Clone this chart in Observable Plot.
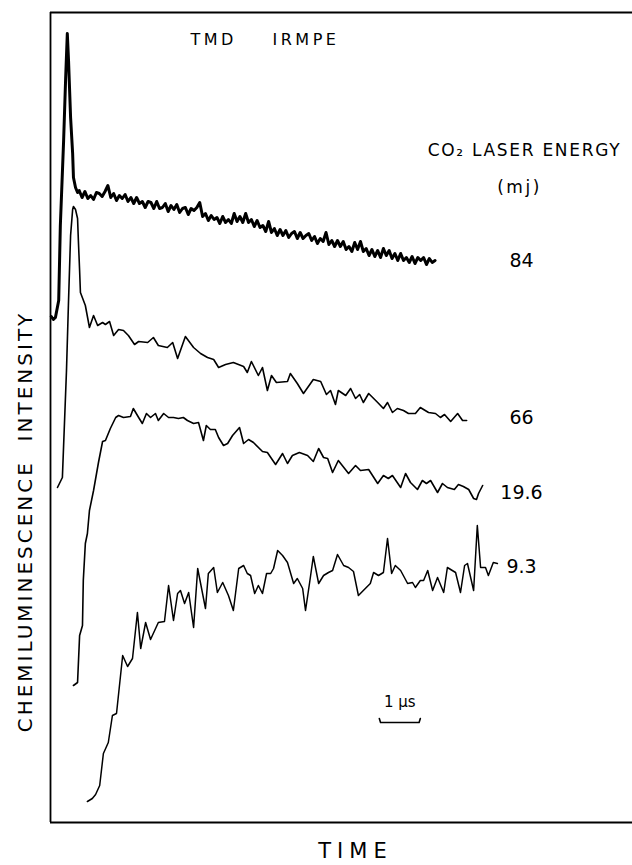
<!DOCTYPE html>
<html><head><meta charset="utf-8">
<script src="https://cdn.jsdelivr.net/npm/d3@7"></script>
<script src="https://cdn.jsdelivr.net/npm/@observablehq/plot@0.6"></script>
<style>html,body{margin:0;padding:0;background:#fff;overflow:hidden;} svg{display:block;}</style>
</head><body>
<div id="chart"></div>
<script>
// Time in microseconds, intensity in arbitrary units (traces offset for display)
const t84 = [0.02,0.07,0.12,0.20,0.24,0.32,0.37,0.41,0.44,0.49,0.54,0.56,0.61,0.66,
0.70,0.77,0.84,0.91,0.98,1.05,1.12,1.19,1.26,1.33,
1.40,1.47,1.54,1.61,1.68,1.75,1.82,1.89,1.96,2.03,
2.10,2.17,2.24,2.31,2.38,2.45,2.52,2.59,2.66,2.73,
2.80,2.87,2.94,3.01,3.08,3.15,3.22,3.29,3.36,3.43,
3.50,3.57,3.64,3.71,3.78,3.85,3.92,3.99,4.06,4.13,
4.20,4.27,4.34,4.41,4.48,4.55,4.62,4.69,4.76,4.83,
4.90,4.97,5.04,5.11,5.18,5.25,5.32,5.39,5.46,5.53,
5.60,5.67,5.74,5.81,5.88,5.95,6.02,6.09,6.16,6.23,
6.30,6.37,6.44,6.51,6.58,6.65,6.72,6.79,6.86,6.93,
7.00,7.07,7.14,7.21,7.28,7.35,7.42,7.49,7.56,7.63,
7.70,7.77,7.84,7.91,7.98,8.05,8.12,8.19,8.26,8.33,
8.40,8.47,8.54,8.61,8.68,8.75,8.82,8.89,8.96,9.03,
9.10,9.17,9.24,9.31,9.38];
const v84 = [505,502,504,521,596,681,744,788,761,704,668,644,634,629,
631,624,630,623,626,622,629,628,625,630,
636,624,628,621,626,623,627,620,624,618,
624,618,620,614,620,619,613,620,613,614,
618,610,616,612,617,609,613,614,607,613,
611,614,619,605,608,601,606,602,604,598,
605,599,602,598,608,600,605,599,608,599,
602,595,601,594,596,590,600,589,593,586,
592,586,591,584,588,590,583,589,583,586,
588,581,585,578,583,580,589,577,581,575,
581,575,580,572,575,570,579,572,580,570,
573,566,572,565,571,564,573,566,571,563,
568,561,568,561,564,559,565,558,564,561,
564,557,563,559,561];

const t66 = [0.17,0.29,0.39,0.44,0.49,0.54,0.56,0.61,0.66,0.68,
0.71,0.73,0.85,0.95,1.05,1.15,1.27,1.34,1.44,1.54,
1.66,1.78,1.90,2.05,2.15,2.37,2.51,2.63,2.85,2.98,
3.10,3.29,3.49,3.66,3.83,3.98,4.10,4.27,4.46,4.71,
4.80,4.90,5.07,5.17,5.29,5.39,5.51,5.78,5.85,6.02,
6.17,6.41,6.59,6.73,6.83,6.95,7.02,7.20,7.32,7.44,
7.54,7.63,7.76,7.98,8.12,8.22,8.34,8.46,8.61,8.73,
8.90,9.02,9.22,9.39,9.51,9.61,9.76,9.93,10.05,10.15];
const v66 = [334,344,451,521,586,612,615,612,603,581,
551,529,516,494,506,496,499,497,500,486,
492,491,486,477,480,479,484,476,474,479,
463,485,474,468,464,462,454,457,459,455,
449,460,446,454,431,446,439,440,448,438,
428,442,440,427,431,417,431,426,433,423,
427,419,428,419,413,419,409,413,411,408,
408,414,409,408,404,407,400,408,401,401];

const t19 = [0.56,0.66,0.71,0.78,0.80,0.85,0.90,0.95,1.05,1.17,
1.27,1.34,1.46,1.59,1.66,1.78,1.95,2.02,2.15,2.24,
2.34,2.44,2.56,2.63,2.76,2.88,3.00,3.12,3.24,3.34,
3.49,3.61,3.73,3.80,3.90,4.02,4.10,4.22,4.32,4.44,
4.61,4.71,4.83,4.95,5.17,5.29,5.49,5.66,5.78,5.90,
6.07,6.27,6.41,6.54,6.66,6.76,6.88,7.02,7.27,7.44,
7.56,7.76,7.98,8.12,8.24,8.34,8.54,8.66,8.78,8.95,
9.07,9.17,9.27,9.44,9.56,9.68,9.85,9.95,10.07,10.20,
10.32,10.39,10.44,10.54];
const v19 = [136,139,186,196,241,278,288,311,331,359,
380,381,393,404,406,404,405,413,404,398,
408,404,408,401,408,404,404,403,404,401,
398,399,381,396,392,392,384,376,378,386,
394,378,382,379,370,369,357,368,358,366,
369,366,360,373,364,363,349,361,348,356,
351,352,338,346,343,346,334,348,339,332,
341,338,341,329,338,334,332,337,335,332,
323,322,328,336];

const t93 = [0.90,1.02,1.10,1.20,1.29,1.41,1.51,1.61,1.76,1.88,
2.00,2.12,2.20,2.32,2.44,2.63,2.78,2.88,3.00,3.10,
3.17,3.27,3.37,3.49,3.59,3.78,3.85,3.98,4.07,4.20,
4.34,4.46,4.59,4.71,4.80,4.88,4.98,5.07,5.17,5.27,
5.37,5.44,5.54,5.66,5.78,5.93,6.02,6.15,6.22,6.32,
6.41,6.54,6.66,6.78,6.88,7.00,7.15,7.27,7.39,7.51,
7.63,7.80,7.88,8.00,8.12,8.22,8.32,8.41,8.54,8.71,
8.83,8.90,9.02,9.10,9.20,9.32,9.44,9.59,9.68,9.80,
9.88,10.00,10.10,10.17,10.32,10.41,10.49,10.61,10.68,10.80,
10.90];
const v93 = [20,23,27,36,68,79,106,108,166,155,
163,209,173,199,182,199,200,236,201,228,
231,218,229,194,253,213,248,254,229,239,
226,211,253,256,248,246,228,236,228,248,
248,253,271,266,259,238,243,233,211,239,
265,238,246,249,251,267,256,254,250,226,
231,238,249,246,249,283,248,256,251,238,
239,234,241,241,251,231,244,229,254,251,
249,229,256,258,231,296,254,254,246,259,
258];

const energies = ["84", "66", "19.6", "9.3"];   // CO2 laser energy, mJ
const titleWords = ["TMD", "IRMPE"];
const legendTitle = "CO\u2082 LASER ENERGY";
const legendUnit = "(mj)";
const yLabel = "CHEMILUMINESCENCE\u00a0 INTENSITY";
const xLabel = "TIME";
const scaleBarLabel = "1 \u03bcs";
const scaleBarStart = 8.02;   // µs
const scaleBarLength = 1;     // µs
const scaleBarLevel = 99;     // intensity units

const zip = (t, v) => t.map((x, i) => ({t: x, v: v[i]}));
const series = [zip(t84, v84), zip(t66, v66), zip(t19, v19), zip(t93, v93)];
const labelRows = series.map((s, i) => ({label: energies[i], v: d3.mean(s.slice(-5), d => d.v)}));
const bracket = [
  {t: scaleBarStart, v: scaleBarLevel + 4},
  {t: scaleBarStart + 0.03, v: scaleBarLevel},
  {t: scaleBarStart + scaleBarLength - 0.03, v: scaleBarLevel},
  {t: scaleBarStart + scaleBarLength, v: scaleBarLevel + 4}
];

const txt = {fill: "black", textAnchor: "middle", lineAnchor: "middle"};
const chart = Plot.plot({
  width: 632, height: 865,
  marginLeft: 50, marginRight: 0, marginTop: 12, marginBottom: 43,
  x: {domain: [0, 14.195], axis: null},
  y: {domain: [-1, 809], axis: null},
  style: {background: "white", color: "black", fontFamily: "'DejaVu Sans', sans-serif"},
  marks: [
    Plot.ruleX([0], {stroke: "black", strokeWidth: 1.8}),
    Plot.ruleY([-1], {stroke: "black", strokeWidth: 2}),
    Plot.ruleY([809], {stroke: "black", strokeWidth: 1.8}),
    Plot.line(series[0], {x: "t", y: "v", stroke: "black", strokeWidth: 3, strokeLinejoin: "round"}),
    Plot.line(series[1], {x: "t", y: "v", stroke: "black", strokeWidth: 1.6, strokeLinejoin: "round"}),
    Plot.line(series[2], {x: "t", y: "v", stroke: "black", strokeWidth: 1.6, strokeLinejoin: "round"}),
    Plot.line(series[3], {x: "t", y: "v", stroke: "black", strokeWidth: 1.5, strokeLinejoin: "round"}),
    Plot.line(bracket, {x: "t", y: "v", stroke: "black", strokeWidth: 1.6}),
    Plot.text([scaleBarLabel], {...txt, text: d => d, x: scaleBarStart + scaleBarLength / 2, y: scaleBarLevel, dy: -20, fontSize: 15}),
    Plot.text(labelRows, {...txt, text: "label", y: "v", frameAnchor: "right", dx: -111, fontSize: 19}),
    Plot.text([titleWords[0]], {...txt, text: d => d, frameAnchor: "top-left", dx: 140, dy: 27, textAnchor: "start", fontSize: 16}),
    Plot.text([titleWords[1]], {...txt, text: d => d, frameAnchor: "top-left", dx: 222, dy: 27, textAnchor: "start", fontSize: 16}),
    Plot.text([legendTitle], {...txt, text: d => d, frameAnchor: "top-right", dx: -108, dy: 138, fontSize: 17}),
    Plot.text([legendUnit], {...txt, text: d => d, frameAnchor: "top-right", dx: -113, dy: 175, fontSize: 17}),
    Plot.text([yLabel], {...txt, text: d => d, frameAnchor: "left", y: 300, rotate: -90, dx: -24.5, fontSize: 20}),
    Plot.text([xLabel], {...txt, text: d => d, frameAnchor: "bottom", dx: 14, dy: 29, fontSize: 21})
  ]
});

const spacing = {"TMD": 3.5, "IRMPE": 3.5, [legendTitle]: 1.7, [legendUnit]: 2.5, [yLabel]: 3, [xLabel]: 6};
d3.select(chart).selectAll("text").each(function() {
  const s = spacing[this.textContent];
  if (s) this.setAttribute("letter-spacing", s + "px");
});
document.getElementById("chart").appendChild(chart);
</script>
</body></html>
